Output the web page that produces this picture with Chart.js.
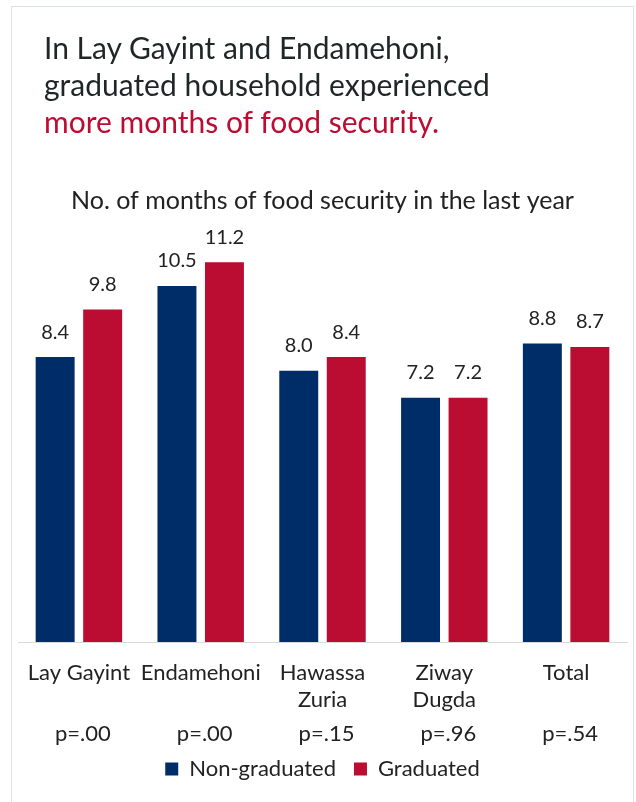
<!DOCTYPE html>
<html>
<head>
<meta charset="utf-8">
<script src="https://cdn.jsdelivr.net/npm/chart.js@4.4.1/dist/chart.umd.min.js"></script>
<style>
  html, body { margin: 0; padding: 0; background: #fff; }
  body { width: 636px; height: 802px; position: relative; overflow: hidden; font-family: Lato, "Open Sans", sans-serif; }
  #frame { position: absolute; left: 11px; top: 6px; width: 623px; height: 820px; border: 1px solid #dde3e3; box-sizing: border-box; }
  #headline { position: absolute; left: 44px; top: 29px; font-size: 30px; line-height: 37px; color: #1f2626; }
  #headline .hl { color: #bb0d32; }
  #wrap { position: absolute; left: 0; top: 0; width: 636px; height: 802px; }
</style>
</head>
<body>
<div id="frame"></div>
<div id="wrap"><canvas id="barChart"></canvas></div>
<div id="headline">In Lay Gayint and Endamehoni,<br>graduated household experienced<br><span class="hl">more months of food security.</span></div>
<script>
const regions = [['Lay Gayint'], ['Endamehoni'], ['Hawassa', 'Zuria'], ['Ziway', 'Dugda'], ['Total']];
const nonGraduated = [8.4, 10.5, 8.0, 7.2, 8.8];
const graduated = [9.8, 11.2, 8.4, 7.2, 8.7];
const pValues = ['p=.00', 'p=.00', 'p=.15', 'p=.96', 'p=.54'];

const NAVY = '#002d68';
const RED = '#bb0d32';
const TEXT = '#222';
const FONT = 'Lato, "Open Sans", sans-serif';

// value labels over each bar
const barValues = {
    id: 'barValues',
    afterDatasetsDraw(chart) {
        const ctx = chart.ctx;
        ctx.save();
        ctx.font = '20px ' + FONT;
        ctx.fillStyle = TEXT;
        ctx.textAlign = 'center';
        ctx.textBaseline = 'bottom';
        chart.data.datasets.forEach((ds, di) => {
            chart.getDatasetMeta(di).data.forEach((bar, i) => {
                ctx.fillText(ds.data[i].toFixed(1), bar.x, bar.y - 15);
            });
        });
        ctx.restore();
    }
};

// significance line under each region
const pValueRow = {
    id: 'pValueRow',
    afterDraw(chart) {
        const ctx = chart.ctx;
        const xScale = chart.scales.x;
        ctx.save();
        ctx.font = '22px ' + FONT;
        ctx.fillStyle = TEXT;
        ctx.textAlign = 'center';
        ctx.textBaseline = 'middle';
        pValues.forEach((p, i) => {
            ctx.fillText(p, xScale.getPixelForValue(i) + 4, chart.chartArea.bottom + 92);
        });
        ctx.restore();
    }
};

const ctxBar = document.getElementById('barChart').getContext('2d');
const barChart = new Chart(ctxBar, {
    type: 'bar',
    data: {
        labels: regions,
        datasets: [{
            label: 'Non-graduated',
            data: nonGraduated,
            backgroundColor: NAVY,
        }, {
            label: 'Graduated',
            data: graduated,
            backgroundColor: RED,
        }],
    },
    options: {
        responsive: true,
        maintainAspectRatio: false,
        animation: false,
        categoryPercentage: 0.78,
        barPercentage: 0.82,
        layout: { padding: { top: 180, left: 18, right: 9, bottom: 12 } },
        scales: {
            y: {
                display: false,
                min: 0,
                max: 12,
            },
            x: {
                grid: { display: false, drawTicks: false },
                border: { display: true, color: '#d9d9d9', width: 1 },
                ticks: {
                    color: TEXT,
                    font: { family: FONT, size: 22, lineHeight: 1.23 },
                    padding: 17,
                    maxRotation: 0,
                    autoSkip: false,
                },
                afterFit(scale) { scale.height = 98; },
            },
        },
        plugins: {
            title: {
                display: true,
                text: 'No. of months of food security in the last year',
                color: TEXT,
                font: { family: FONT, size: 25, weight: 'normal', lineHeight: 1.2 },
                padding: { top: 6, bottom: 19 },
            },
            legend: {
                position: 'bottom',
                labels: {
                    color: TEXT,
                    font: { family: FONT, size: 22 },
                    boxWidth: 13,
                    boxHeight: 13,
                    padding: 18,
                },
            },
            tooltip: { enabled: false },
        },
    },
    plugins: [barValues, pValueRow],
});
</script>
</body>
</html>
